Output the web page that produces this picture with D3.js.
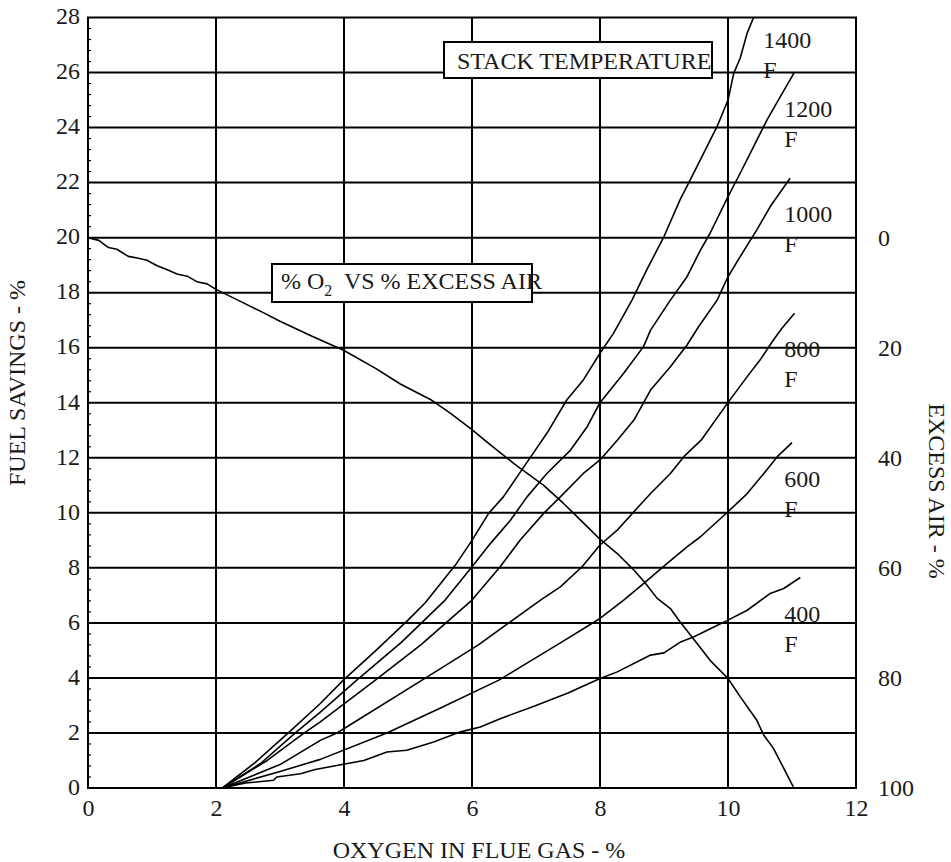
<!DOCTYPE html>
<html>
<head>
<meta charset="utf-8">
<script src="https://cdn.jsdelivr.net/npm/d3@7"></script>
<style>
  body { margin: 0; background: #fff; }
  svg text { font-family: "Liberation Serif", "Times New Roman", serif; fill: #1a1a1a; }
</style>
</head>
<body>
<div id="chart"></div>
<script>
// tick labels
const xTicks = [0, 2, 4, 6, 8, 10, 12];
const yTicks = [0, 2, 4, 6, 8, 10, 12, 14, 16, 18, 20, 22, 24, 26, 28];
const excessTicks = [0, 20, 40, 60, 80, 100];

// % O2 vs % excess air  [o2 %, excess air %]
const o2ExcessAir = [
    [0, 0], [0.17, 0.5], [0.32, 1.8], [0.45, 2.1], [0.63, 3.4], [0.77, 3.7], [0.92, 4.1],
    [1.08, 5.1], [1.23, 5.8], [1.39, 6.6], [1.55, 7.0], [1.7, 8.0], [1.86, 8.4], [2.0, 9.4],
    [2.35, 11.4], [2.7, 13.4], [3.0, 15.2], [3.5, 17.9], [4.0, 20.5], [4.5, 23.8], [4.88, 26.6],
    [5.35, 29.4], [5.66, 31.9], [6.0, 34.9], [6.23, 37.1], [6.65, 41.0], [7.12, 45.0], [7.43, 48.3],
    [7.8, 52.5], [8.0, 54.8], [8.27, 57.4], [8.53, 60.4], [8.71, 62.8], [8.89, 65.5], [9.1, 67.4],
    [9.25, 69.8], [9.52, 73.8], [9.72, 76.8], [10.0, 80.1], [10.19, 83.4], [10.45, 87.7],
    [10.56, 90.4], [10.71, 92.8], [10.87, 96.4], [11.02, 99.8]
];

// fuel savings by stack temperature  [o2 %, fuel savings %]
const t1400 = [
    [2.1, 0], [2.6, 0.9], [3.13, 2.0], [3.63, 3.07], [3.99, 3.92], [4.5, 5.0], [5.0, 6.1], [5.27, 6.73],
    [5.74, 8.1], [6.0, 9.0], [6.26, 9.98], [6.49, 10.58], [6.81, 11.67], [6.99, 12.28], [7.17, 12.89],
    [7.48, 14.1], [7.74, 14.83], [8.0, 15.8], [8.21, 16.52], [8.5, 17.73], [8.73, 18.83], [9.0, 20.04],
    [9.25, 21.37], [9.41, 22.1], [9.62, 23.07], [9.83, 24.04], [10.0, 25.0], [10.09, 25.98],
    [10.19, 26.52], [10.3, 27.44], [10.4, 28.0]
];
const t1200 = [
    [2.1, 0], [2.7, 0.9], [3.24, 2.0], [3.63, 2.76], [4.2, 3.92], [4.9, 5.3], [5.58, 6.83], [6.0, 8.04],
    [6.29, 8.89], [6.6, 9.73], [6.86, 10.58], [7.17, 11.43], [7.54, 12.28], [7.8, 13.13], [8.0, 14.0],
    [8.37, 15.07], [8.68, 16.04], [8.79, 16.64], [9.1, 17.73], [9.36, 18.58], [9.57, 19.55],
    [9.72, 20.16], [10.0, 21.49], [10.19, 22.34], [10.4, 23.31], [10.61, 24.28], [10.82, 25.13],
    [11.03, 25.98]
];
const t1000 = [
    [2.1, 0], [2.8, 1.0], [3.38, 2.0], [3.63, 2.4], [4.49, 3.92], [5.2, 5.2], [6.0, 6.83], [6.44, 8.04],
    [6.75, 9.0], [7.12, 9.98], [7.38, 10.58], [7.74, 11.43], [8.0, 11.92], [8.27, 12.64], [8.53, 13.37],
    [8.79, 14.46], [9.1, 15.31], [9.36, 16.1], [9.54, 16.76], [9.83, 17.73], [10.0, 18.58],
    [10.19, 19.31], [10.45, 20.28], [10.66, 21.13], [10.97, 22.16]
];
const t800 = [
    [2.1, 0], [3.0, 0.85], [3.63, 1.73], [3.89, 2.0], [5.22, 3.92], [6.1, 5.2], [7.07, 6.83], [7.38, 7.31],
    [7.72, 8.04], [8.0, 8.83], [8.27, 9.37], [8.53, 10.04], [8.79, 10.7], [9.1, 11.43], [9.31, 12.04],
    [9.58, 12.64], [10.01, 14.04], [10.3, 14.95], [10.5, 15.55], [10.71, 16.28], [10.84, 16.7],
    [11.04, 17.25]
];
const t600 = [
    [2.1, 0], [3.0, 0.6], [3.63, 1.04], [4.67, 2.0], [5.5, 2.9], [6.42, 3.92], [7.4, 5.3], [8.0, 6.16],
    [8.37, 6.83], [8.68, 7.43], [9.05, 8.16], [9.36, 8.76], [9.57, 9.13], [10.0, 10.04], [10.3, 10.7],
    [10.56, 11.43], [10.77, 12.04], [11.0, 12.55]
];
const t400 = [
    [2.1, 0], [2.46, 0.18], [2.9, 0.28], [2.95, 0.4], [3.32, 0.52], [3.55, 0.67], [4.31, 1.0],
    [4.67, 1.31], [4.98, 1.37], [5.4, 1.67], [5.82, 2.04], [6.13, 2.22], [6.44, 2.52], [7.0, 3.0],
    [7.5, 3.45], [8.0, 3.98], [8.27, 4.22], [8.79, 4.83], [9.0, 4.91], [9.26, 5.31], [9.46, 5.49],
    [9.78, 5.85], [10.0, 6.1], [10.3, 6.46], [10.66, 7.07], [10.87, 7.25], [11.13, 7.65]
];
const tempNames = ["1400", "1200", "1000", "800", "600", "400"];
const tempSeries = [t1400, t1200, t1000, t800, t600, t400];

const W = 951, H = 862;
const margin = { top: 17.5, right: 95, bottom: 74, left: 88 };

const svg = d3.select("#chart").append("svg")
    .attr("width", W)
    .attr("height", H);

const x = d3.scaleLinear().domain([0, 12]).range([margin.left, W - margin.right]);
const y = d3.scaleLinear().domain([0, 28]).range([H - margin.bottom, margin.top]);
// right axis: 0% excess air sits at 20 on the left scale, 100% at 0
const yExcess = d3.scaleLinear().domain([0, 100]).range([y(20), y(0)]);

// Gridlines
svg.append("g")
    .selectAll("line")
    .data(xTicks.slice(1, -1))
    .enter()
    .append("line")
    .attr("x1", d => x(d)).attr("x2", d => x(d))
    .attr("y1", y(0)).attr("y2", y(28))
    .attr("stroke", "#000").attr("stroke-width", 2);

svg.append("g")
    .selectAll("line")
    .data(yTicks.slice(1, -1))
    .enter()
    .append("line")
    .attr("x1", x(0)).attr("x2", x(12))
    .attr("y1", d => y(d)).attr("y2", d => y(d))
    .attr("stroke", "#000").attr("stroke-width", 2);

// minor ticks on left axis (inside)
const minor = d3.range(0, 28, 0.4).filter(v => Math.abs(v / 2 - Math.round(v / 2)) > 0.01);
svg.append("g")
    .selectAll("line")
    .data(minor)
    .enter()
    .append("line")
    .attr("x1", x(0)).attr("x2", x(0) + 3)
    .attr("y1", d => y(d)).attr("y2", d => y(d))
    .attr("stroke", "#000").attr("stroke-width", 1.2);

// Frame
svg.append("rect")
    .attr("x", x(0)).attr("y", y(28))
    .attr("width", x(12) - x(0)).attr("height", y(0) - y(28))
    .attr("fill", "none").attr("stroke", "#000").attr("stroke-width", 2);

// Axes (labels only)
const xAxis = svg.append("g")
    .attr("transform", `translate(0, ${y(0)})`)
    .call(d3.axisBottom(x).tickValues(xTicks).tickSize(0).tickPadding(10));
const yAxis = svg.append("g")
    .attr("transform", `translate(${x(0)}, 0)`)
    .call(d3.axisLeft(y).tickValues(yTicks).tickSize(0).tickPadding(8));
const rAxis = svg.append("g")
    .attr("transform", `translate(${x(12)}, 0)`)
    .call(d3.axisRight(yExcess).tickValues(excessTicks).tickSize(0).tickPadding(22));

[xAxis, yAxis, rAxis].forEach(a => {
    a.select(".domain").remove();
    a.selectAll("text")
        .style("font-size", "24px")
        .style("font-family", "'Liberation Serif', 'Times New Roman', serif")
        .attr("fill", "#1a1a1a");
});
xAxis.selectAll("text").attr("dy", "0.71em").attr("y", 11);
yAxis.selectAll("text").attr("dy", "0.26em");
rAxis.selectAll("text").attr("dy", "0.32em");

// Axis titles
svg.append("text")
    .attr("x", 479)
    .attr("y", 858)
    .attr("text-anchor", "middle")
    .style("font-size", "24px")
    .text("OXYGEN IN FLUE GAS - %");

svg.append("text")
    .attr("transform", `translate(25, 383) rotate(-90)`)
    .attr("text-anchor", "middle")
    .style("font-size", "24px")
    .text("FUEL SAVINGS - %");

svg.append("text")
    .attr("transform", `translate(929, 491) rotate(90)`)
    .attr("text-anchor", "middle")
    .style("font-size", "24px")
    .text("EXCESS AIR - %");

// Curves
const line = d3.line().x(d => x(d[0])).y(d => y(d[1]));

svg.append("g")
    .selectAll("path")
    .data(tempSeries)
    .enter()
    .append("path")
    .attr("d", line)
    .attr("fill", "none")
    .attr("stroke", "#000")
    .attr("stroke-width", 1.6)
    .attr("stroke-linejoin", "round");

const excessLine = d3.line().x(d => x(d[0])).y(d => yExcess(d[1]));
svg.append("path")
    .datum(o2ExcessAir)
    .attr("d", excessLine)
    .attr("fill", "none")
    .attr("stroke", "#000")
    .attr("stroke-width", 1.6)
    .attr("stroke-linejoin", "round");

// Temperature labels, placed just under each curve's end
const labelAt = tempSeries.map((s, i) => {
    const end = s[s.length - 1];
    if (i === 0) return [10.55, 26.9];
    return [10.88, end[1] - 1.6];
});
const tl = svg.append("g")
    .selectAll("text")
    .data(tempNames)
    .enter()
    .append("text")
    .attr("x", (d, i) => x(labelAt[i][0]))
    .attr("y", (d, i) => y(labelAt[i][1]))
    .style("font-size", "24px");
tl.append("tspan").text(d => d);
tl.append("tspan")
    .attr("x", (d, i) => x(labelAt[i][0]))
    .attr("dy", 30)
    .text("F");

// Boxed notes
svg.append("rect")
    .attr("x", 444).attr("y", 42)
    .attr("width", 268).attr("height", 36)
    .attr("fill", "#fff").attr("stroke", "#000").attr("stroke-width", 2);
svg.append("text")
    .attr("x", 457).attr("y", 69)
    .style("font-size", "24px")
    .text("STACK TEMPERATURE");

svg.append("rect")
    .attr("x", 272).attr("y", 264)
    .attr("width", 260).attr("height", 38)
    .attr("fill", "#fff").attr("stroke", "#000").attr("stroke-width", 2);
const o2Label = svg.append("text")
    .attr("x", 281).attr("y", 289)
    .style("font-size", "24px");
o2Label.append("tspan").text("% O");
o2Label.append("tspan").attr("dy", 7).style("font-size", "16px").text("2");
o2Label.append("tspan").attr("dy", -7).text("\u00a0 VS % EXCESS AIR");
</script>
</body>
</html>
